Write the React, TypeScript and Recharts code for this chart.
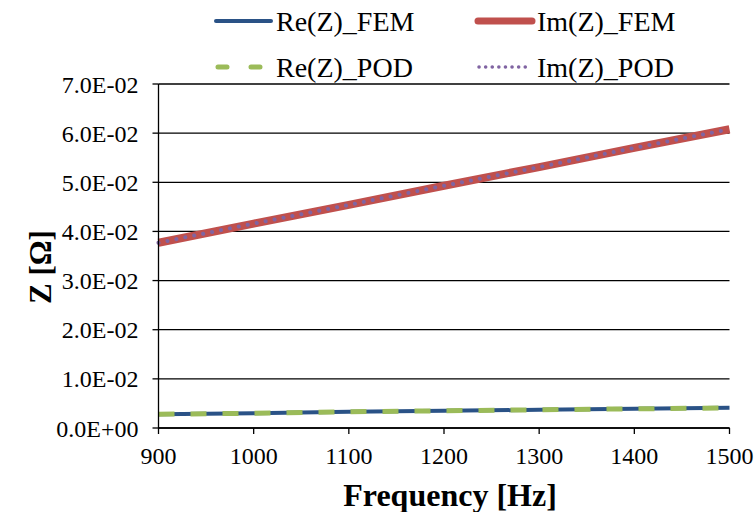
import React from 'react';
import { LineChart, Line, XAxis, YAxis, CartesianGrid } from 'recharts';

const frequencies = [900, 1000, 1100, 1200, 1300, 1400, 1500];
const reFEM = [0.0028, 0.0030, 0.0033, 0.0035, 0.0037, 0.0039, 0.0041];
const imFEM = [0.0377, 0.0416, 0.0454, 0.0493, 0.0531, 0.0570, 0.0608];
const rePOD = [0.0028, 0.0030, 0.0033, 0.0035, 0.0037, 0.0039, 0.0041];
const imPOD = [0.0377, 0.0416, 0.0454, 0.0493, 0.0531, 0.0570, 0.0608];

const xTicks = [900, 1000, 1100, 1200, 1300, 1400, 1500];
const yTicks = [0, 0.01, 0.02, 0.03, 0.04, 0.05, 0.06, 0.07];
const yTickLabels = ['0.0E+00', '1.0E-02', '2.0E-02', '3.0E-02', '4.0E-02', '5.0E-02', '6.0E-02', '7.0E-02'];

const data = frequencies.map((f, i) => ({
  f,
  reFEM: reFEM[i],
  imFEM: imFEM[i],
  rePOD: rePOD[i],
  imPOD: imPOD[i],
}));

const FONT = "'Liberation Serif', Tinos, 'DejaVu Serif', 'Noto Serif', serif";
const C_RE_FEM = '#2A5286';
const C_IM_FEM = '#C0504D';
const C_RE_POD = '#9BBB59';
const C_IM_POD = '#8064A2';

export default function App() {
  return (
    <div style={{ position: 'absolute', left: 0, top: 0, width: 756, height: 512, background: '#fff' }}>
      <LineChart
        width={756}
        height={512}
        data={data}
        margin={{ top: 84, right: 26.5, bottom: 0, left: 0 }}
        style={{ fontFamily: FONT }}
      >
        <CartesianGrid vertical={false} stroke="#000" strokeWidth={1.3} />
        <XAxis
          dataKey="f"
          type="number"
          domain={[900, 1500]}
          ticks={xTicks}
          height={84}
          tickSize={6}
          tickMargin={13}
          stroke="#000"
          strokeWidth={1.3}
          tick={{ fill: '#000', fontSize: 24, fontFamily: FONT }}
        />
        <YAxis
          type="number"
          domain={[0, 0.07]}
          ticks={yTicks}
          width={158.5}
          tickSize={6}
          tickMargin={14}
          stroke="#000"
          strokeWidth={1.3}
          tickFormatter={(v: number) => yTickLabels[Math.round(v * 100)]}
          tick={{ fill: '#000', fontSize: 24, fontFamily: FONT }}
        />
        <Line dataKey="reFEM" type="linear" stroke={C_RE_FEM} strokeWidth={4} dot={false} isAnimationActive={false} />
        <Line dataKey="rePOD" type="linear" stroke={C_RE_POD} strokeWidth={5} strokeDasharray="16 16" dot={false} isAnimationActive={false} />
        <Line dataKey="imFEM" type="linear" stroke={C_IM_FEM} strokeWidth={8} dot={false} isAnimationActive={false} />
        <Line dataKey="imPOD" type="linear" stroke={C_IM_POD} strokeWidth={4} strokeDasharray="0.1 9" strokeLinecap="round" dot={false} isAnimationActive={false} />
      </LineChart>
      <svg width={756} height={512} style={{ position: 'absolute', left: 0, top: 0, pointerEvents: 'none' }}>
        <g fontFamily={FONT} fill="#000">
          <line x1={216} y1={21} x2={271} y2={21} stroke={C_RE_FEM} strokeWidth={4} strokeLinecap="round" />
          <text x={276} y={21} dy="0.35em" fontSize={28}>Re(Z)_FEM</text>
          <line x1={478} y1={21} x2={532} y2={21} stroke={C_IM_FEM} strokeWidth={7} strokeLinecap="round" />
          <text x={537} y={21} dy="0.35em" fontSize={28}>Im(Z)_FEM</text>
          <line x1={218} y1={67} x2={269} y2={67} stroke={C_RE_POD} strokeWidth={5} strokeDasharray="9 24" strokeLinecap="round" />
          <text x={276} y={67} dy="0.35em" fontSize={28}>Re(Z)_POD</text>
          <line x1={479} y1={67} x2={531} y2={67} stroke={C_IM_POD} strokeWidth={3.5} strokeDasharray="0.1 6.5" strokeLinecap="round" />
          <text x={537} y={67} dy="0.35em" fontSize={28}>Im(Z)_POD</text>
          <text x={450} y={495} dy="0.35em" textAnchor="middle" fontSize={32} fontWeight="bold">Frequency [Hz]</text>
          <text x={0} y={0} transform="translate(40,267) rotate(-90)" dy="0.35em" textAnchor="middle" fontSize={31} fontWeight="bold">Z [Ω]</text>
        </g>
      </svg>
    </div>
  );
}
